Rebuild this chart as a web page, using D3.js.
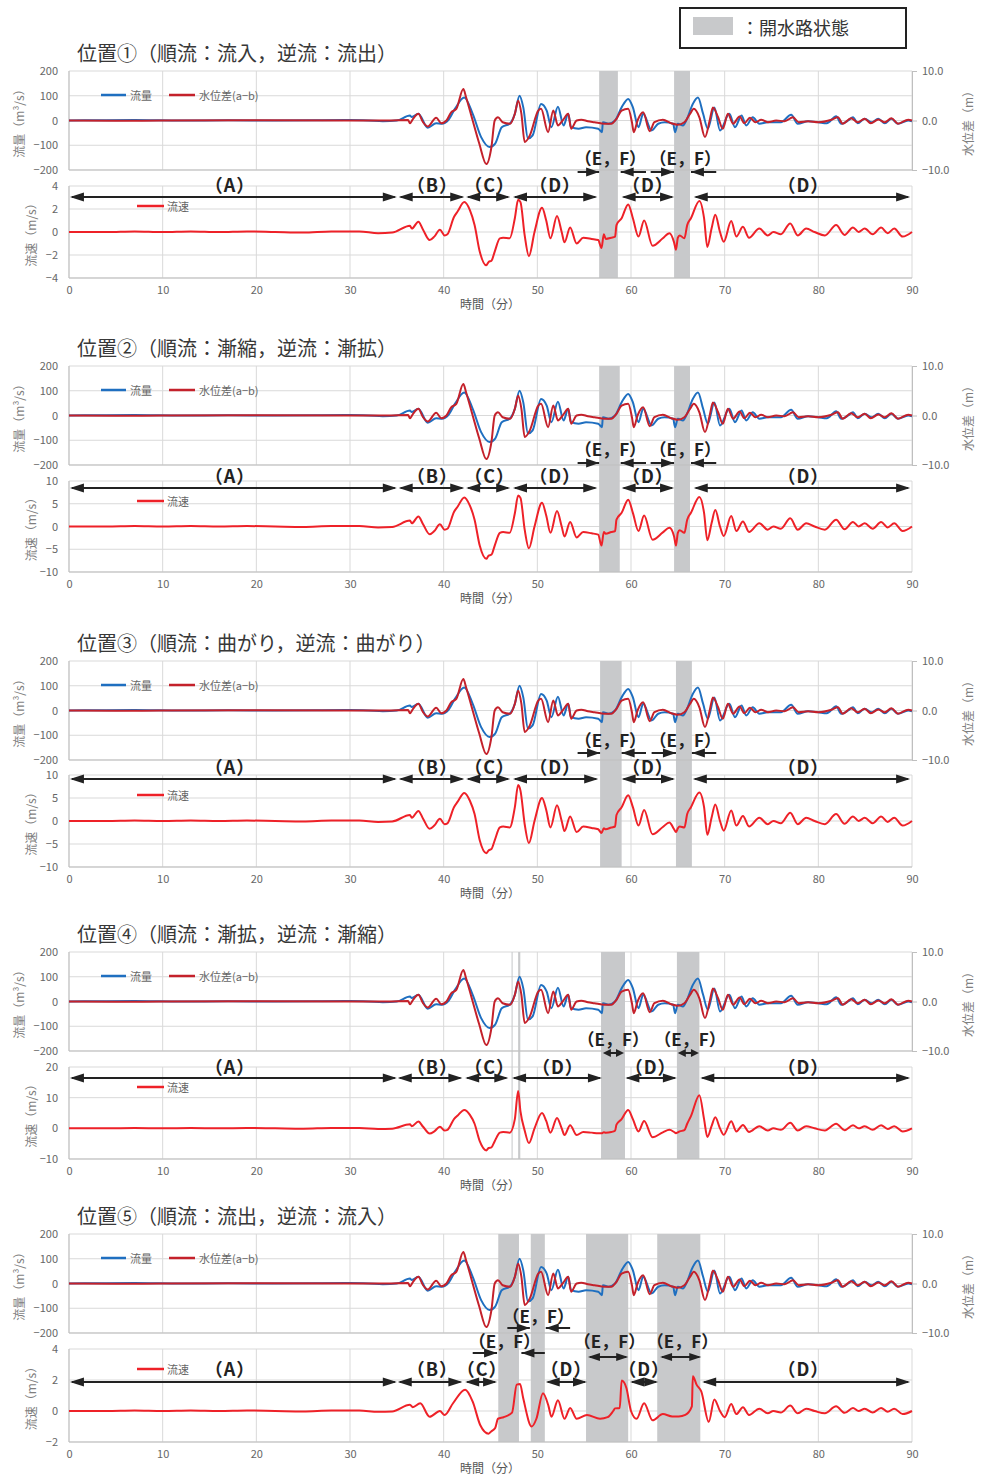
<!DOCTYPE html>
<html>
<head>
<meta charset="utf-8">
<script src="https://cdn.jsdelivr.net/npm/d3@7"></script>
<style>
  body { margin: 0; background: #fff; }
  text { font-family: "Noto Sans CJK JP", "Noto Sans", sans-serif; }
</style>
</head>
<body>
<div id="chart"></div>
<script>
// ---- data ----
const panelTitles = [
  "位置①（順流：流入，逆流：流出）",
  "位置②（順流：漸縮，逆流：漸拡）",
  "位置③（順流：曲がり，逆流：曲がり）",
  "位置④（順流：漸拡，逆流：漸縮）",
  "位置⑤（順流：流出，逆流：流入）"
];
const xTicks = [0, 10, 20, 30, 40, 50, 60, 70, 80, 90];
const flowTicks = [-200, -100, 0, 100, 200];
const levelTicks = [-10, 0, 10];

// 流量 (m3/s) : [minute, value]
const flow = [[0,0],[3,1],[7,2],[12,0],[17,1],[22,0],[27,1],[30,2],[32,0],[33.5,-3],[35,0],[36.4,20],[36.6,14],[37.3,27],[38.3,-29],[39.2,-11],[39.8,-13],[40.5,2],[41.2,47],[42.2,93],[43.1,27],[44.0,-67],[44.9,-107],[45.5,-93],[46.2,-27],[47.1,-11],[47.6,27],[48.1,100],[48.5,53],[49.0,-73],[49.5,-60],[50.4,67],[51.0,40],[51.5,-27],[52.2,56],[52.8,-20],[53.3,27],[53.6,-27],[54.4,-33],[55.2,-27],[56.5,-33],[56.9,-47],[57.0,-7],[57.6,-13],[58.3,0],[59.0,53],[59.7,87],[60.2,53],[60.8,-27],[61.3,27],[62.2,-40],[62.9,-13],[63.6,-7],[64.5,-13],[64.7,-47],[65.0,-13],[65.55,-20],[65.9,0],[66.6,67],[67.15,93],[67.7,27],[68.2,-33],[68.9,53],[69.5,-40],[70.5,27],[71.1,-27],[71.8,20],[72.3,-20],[73.0,13],[73.7,-13],[74.6,-7],[76.0,-7],[77.1,23],[77.8,-13],[78.9,-3],[80,-7],[80.9,-11],[81.9,17],[82.45,-13],[83.2,0],[83.7,13],[84.2,-11],[84.95,7],[85.7,-7],[86.4,7],[87.1,-11],[87.8,7],[88.5,-13],[89.6,0],[90,-3]];

// 水位差(a-b) (m) : [minute, value]
const level = [[0,0],[5,-0.05],[10,0],[20,0.05],[30,0],[34,0],[36.2,0.1],[36.4,-0.55],[36.7,0.25],[37.3,1.35],[37.8,-0.35],[38.3,-1.2],[39.2,0.55],[39.75,-0.55],[40.3,0],[40.8,1.65],[41.35,2.35],[42.1,6.35],[42.4,4.65],[43.0,0.65],[43.8,-4.65],[44.55,-8.8],[45.1,-5.35],[45.45,0],[45.8,0.65],[46.3,-0.35],[47.1,-0.65],[47.6,1.35],[47.95,4.0],[48.3,1.35],[48.65,-4.35],[49.2,-3.0],[50.1,2.0],[50.4,2.35],[51.15,-2.35],[51.7,2.0],[52.2,-1.0],[52.7,0],[53.3,1.35],[53.6,-1.65],[54.2,0],[54.7,0.15],[55.4,-0.15],[56.1,-0.35],[57.2,-0.65],[57.9,-0.65],[58.45,0.35],[59.0,2.0],[59.7,2.35],[60.1,-0.35],[60.3,-2.35],[60.7,0],[61.3,1.65],[62.0,-2.15],[62.5,-0.35],[63.4,0.15],[64.3,-0.55],[65.0,-0.85],[65.7,-0.35],[66.3,1.35],[66.7,2.35],[67.3,0.65],[67.9,-3.35],[68.4,0],[68.75,2.65],[69.3,0.65],[69.8,-1.65],[70.35,1.35],[70.9,-0.65],[71.6,0.8],[72.1,-0.55],[72.7,0.55],[73.3,-0.35],[73.9,0.15],[74.6,-0.35],[75.5,0],[76.4,-0.15],[77.3,0.65],[77.9,-0.35],[78.9,-0.15],[80,-0.35],[81.4,0.15],[82.1,0.65],[82.6,-0.65],[83.5,0.45],[84.2,-0.35],[84.95,0.35],[85.6,-0.55],[86.4,0.2],[87.1,-0.35],[87.8,0.45],[88.5,-0.65],[89.6,0.15],[90,0]];

// 流速 (m/s) for each position : [minute, value]
const vel1 = [[0,0],[4,0],[7,0.05],[10,0],[13,0.05],[16,0],[19,0.05],[22,0],[25,-0.05],[28,0.05],[31,0.05],[33,-0.1],[34.5,-0.05],[36.4,0.55],[36.6,0.3],[37.3,0.9],[37.8,0.2],[38.5,-0.7],[39.0,-0.4],[39.6,0.2],[40.1,-0.3],[40.4,-0.2],[41.1,1.3],[41.5,1.8],[42.2,2.6],[42.8,1.9],[43.3,0.6],[43.85,-1.7],[44.55,-2.9],[44.8,-2.6],[45.1,-2.5],[45.45,-1.7],[46.0,-0.55],[46.35,-0.5],[47.05,-0.55],[47.6,1.2],[47.95,2.8],[48.2,2.6],[48.65,-0.3],[49.1,-2.1],[49.7,0],[50.5,2.1],[50.95,1.0],[51.4,-0.55],[52.1,1.4],[52.6,0],[52.9,-0.9],[53.5,0.4],[54.2,-1.0],[54.9,-0.5],[55.8,-0.6],[56.5,-0.7],[56.85,-1.4],[57.1,-0.2],[57.3,-0.6],[57.9,-0.5],[58.3,-0.4],[58.45,0.6],[59.0,1.2],[59.7,2.4],[60.2,1.2],[60.8,-0.4],[61.4,1.0],[62.3,-1.2],[63.4,-0.55],[64.1,-0.1],[64.6,-0.9],[64.8,-1.55],[65.0,-0.5],[65.2,-0.3],[65.7,-0.55],[66.0,0.6],[66.4,1.2],[67.3,2.7],[67.8,1.2],[68.15,-1.3],[68.6,0.3],[69.0,1.5],[69.5,0],[69.9,-0.85],[70.7,0.95],[71.25,-0.4],[71.95,0.45],[72.6,-0.5],[73.7,0.3],[74.6,-0.3],[75.2,0],[76.0,-0.2],[77.0,0.75],[77.8,-0.3],[78.7,0.3],[79.6,0],[80.7,-0.3],[81.9,0.6],[82.8,-0.25],[83.7,0.4],[84.3,0],[84.95,0.3],[85.8,-0.2],[86.7,0.4],[87.4,-0.1],[88.1,0.3],[89.0,-0.4],[90,0]];

const vel2 = [[0,0],[4,0],[7,0.1],[10,0],[13,0.1],[16,0],[19,0.1],[22,0],[25,-0.1],[28,0.1],[31,0.1],[33,-0.2],[34.5,-0.1],[36.4,1.3],[36.6,0.7],[37.3,2.2],[37.8,0.5],[38.5,-1.7],[39.0,-1.0],[39.6,0.5],[40.1,-0.7],[40.4,-0.5],[41.1,3.2],[41.5,4.4],[42.2,6.4],[42.8,4.6],[43.3,1.5],[43.85,-4.2],[44.55,-7.1],[44.8,-6.4],[45.1,-6.2],[45.45,-4.2],[46.0,-1.4],[46.35,-1.2],[47.05,-1.4],[47.6,2.9],[47.95,6.8],[48.2,6.3],[48.65,-0.7],[49.1,-4.8],[49.7,0],[50.5,5.2],[50.95,2.4],[51.4,-1.4],[52.1,3.4],[52.6,0],[52.9,-2.2],[53.5,1.0],[54.2,-2.4],[54.9,-1.2],[55.8,-1.5],[56.5,-1.8],[56.85,-4.2],[57.1,-1.2],[57.3,-1.6],[57.9,-1.2],[58.3,-1.0],[58.45,1.5],[59.0,3.0],[59.7,5.9],[60.2,3.0],[60.8,-1.0],[61.4,2.4],[62.3,-2.9],[63.4,-1.3],[64.1,-0.3],[64.6,-2.2],[64.8,-4.2],[65.0,-1.4],[65.2,-0.8],[65.7,-1.4],[66.0,1.5],[66.4,3.0],[67.3,6.5],[67.8,3.0],[68.15,-3.0],[68.6,0.7],[69.0,3.6],[69.5,0],[69.9,-2.1],[70.7,2.3],[71.25,-1.0],[71.95,1.1],[72.6,-1.2],[73.7,0.7],[74.6,-0.7],[75.2,0],[76.0,-0.5],[77.0,1.8],[77.8,-0.7],[78.7,0.7],[79.6,0],[80.7,-0.7],[81.9,1.5],[82.8,-0.6],[83.7,1.0],[84.3,0],[84.95,0.7],[85.8,-0.5],[86.7,1.0],[87.4,-0.2],[88.1,0.7],[89.0,-1.0],[90,0]];

const vel3 = [[0,0],[4,0],[7,0.1],[10,0],[13,0.1],[16,0],[19,0.1],[22,0],[25,-0.1],[28,0.1],[31,0.1],[33,-0.2],[34.5,-0.1],[36.4,1.3],[36.6,0.7],[37.3,2.2],[37.8,0.5],[38.5,-1.7],[39.0,-1.0],[39.6,0.5],[40.1,-0.7],[40.4,-0.5],[41.1,3.0],[41.5,4.2],[42.2,6.1],[42.8,4.4],[43.3,1.5],[43.85,-4.2],[44.55,-7.0],[44.8,-6.4],[45.1,-6.1],[45.45,-4.2],[46.0,-1.4],[46.35,-1.2],[47.05,-1.4],[47.6,3.0],[47.95,7.8],[48.2,6.6],[48.65,-0.7],[49.1,-4.8],[49.7,0],[50.5,5.0],[50.95,2.4],[51.4,-1.4],[52.1,3.4],[52.6,0],[52.9,-2.2],[53.5,1.0],[54.2,-2.4],[54.9,-1.2],[55.8,-1.5],[56.5,-1.8],[56.85,-2.6],[57.1,-1.6],[57.3,-1.8],[57.9,-1.4],[58.3,-1.2],[58.45,1.3],[59.0,3.0],[59.7,5.6],[60.2,3.0],[60.8,-1.0],[61.4,2.4],[62.3,-2.9],[63.4,-1.3],[64.1,-0.3],[64.6,-1.8],[64.8,-2.4],[65.0,-1.6],[65.2,-1.2],[65.7,-1.4],[66.0,1.5],[66.4,3.0],[67.3,6.2],[67.8,3.0],[68.15,-3.0],[68.6,0.7],[69.0,3.6],[69.5,0],[69.9,-2.1],[70.7,2.3],[71.25,-1.0],[71.95,1.1],[72.6,-1.2],[73.7,0.7],[74.6,-0.7],[75.2,0],[76.0,-0.5],[77.0,1.8],[77.8,-0.7],[78.7,0.7],[79.6,0],[80.7,-0.7],[81.9,1.5],[82.8,-0.6],[83.7,1.0],[84.3,0],[84.95,0.7],[85.8,-0.5],[86.7,1.0],[87.4,-0.2],[88.1,0.7],[89.0,-1.0],[90,0]];

const vel4 = [[0,0],[4,0],[7,0.1],[10,0],[13,0.1],[16,0],[19,0.1],[22,0],[25,-0.1],[28,0.1],[31,0.1],[33,-0.2],[34.5,-0.1],[36.4,1.3],[36.6,0.7],[37.3,2.2],[37.8,0.5],[38.5,-1.7],[39.0,-1.0],[39.6,0.5],[40.1,-0.7],[40.4,-0.5],[41.1,3.0],[41.5,4.2],[42.2,6.0],[42.8,4.4],[43.3,1.5],[43.85,-4.2],[44.55,-7.2],[44.8,-6.4],[45.1,-6.2],[45.45,-4.2],[46.0,-1.4],[46.35,-1.2],[47.05,-1.4],[47.6,3.0],[47.95,12.2],[48.2,5.5],[48.65,-0.7],[49.1,-4.8],[49.7,0],[50.5,5.0],[50.95,2.4],[51.4,-1.4],[52.1,3.4],[52.6,0],[52.9,-2.2],[53.5,1.0],[54.2,-2.2],[54.9,-1.2],[55.8,-1.4],[56.5,-1.6],[56.85,-1.6],[57.1,-1.3],[57.3,-1.4],[57.9,-1.2],[58.3,-0.8],[58.45,1.2],[59.0,3.0],[59.7,6.0],[60.2,3.0],[60.8,-1.0],[61.4,2.4],[62.3,-2.9],[63.4,-1.3],[64.1,-0.5],[64.6,-1.2],[64.8,-1.6],[65.0,-1.3],[65.2,-1.0],[65.7,-0.6],[66.0,1.5],[66.4,4.0],[67.3,10.8],[67.8,3.0],[68.15,-2.8],[68.6,0.7],[69.0,3.6],[69.5,0],[69.9,-2.1],[70.7,2.3],[71.25,-1.0],[71.95,1.1],[72.6,-1.2],[73.7,0.7],[74.6,-0.7],[75.2,0],[76.0,-0.5],[77.0,1.8],[77.8,-0.7],[78.7,0.7],[79.6,0],[80.7,-0.7],[81.9,1.5],[82.8,-0.6],[83.7,1.0],[84.3,0],[84.95,0.7],[85.8,-0.5],[86.7,1.0],[87.4,-0.2],[88.1,0.7],[89.0,-1.0],[90,0]];

const vel5 = [[0,0],[4,0],[7,0.03],[10,0],[13,0.03],[16,0],[19,0.03],[22,0],[25,-0.03],[28,0.03],[31,0.03],[33,-0.05],[34.5,-0.03],[36.4,0.4],[36.7,0.25],[37.5,0.5],[38.5,-0.37],[39.6,0],[40.1,-0.26],[41.0,0.5],[42.3,1.37],[43.1,0.6],[43.9,-0.9],[44.8,-1.46],[45.1,-1.3],[45.5,-1.1],[45.8,-0.5],[46.4,-0.4],[47.3,-0.1],[47.8,1.7],[48.15,1.74],[48.5,0.8],[49.4,-1.0],[49.9,-0.5],[50.6,1.15],[51.2,0.3],[51.5,-0.37],[52.2,0.7],[52.9,-0.5],[53.5,0.2],[54.2,-0.5],[55.3,-0.26],[56.7,-0.5],[57.5,-0.4],[58.1,0],[58.3,0.17],[58.8,0.2],[59.0,1.96],[59.5,1.5],[60.0,0],[60.6,-0.5],[61.4,0.5],[62.3,-0.6],[63.4,-0.2],[64.4,-0.35],[65.1,-0.35],[65.8,-0.25],[66.5,0.3],[66.6,2.24],[67.0,1.7],[67.5,1.26],[68.3,-0.7],[68.9,0.75],[69.5,0],[70.0,-0.4],[70.7,0.45],[71.25,-0.2],[71.95,0.25],[72.6,-0.25],[73.7,0.15],[74.6,-0.15],[75.2,0],[76.0,-0.1],[77.0,0.35],[77.8,-0.15],[78.7,0.15],[79.6,0],[80.7,-0.15],[81.9,0.3],[82.8,-0.12],[83.7,0.2],[84.3,0],[84.95,0.15],[85.8,-0.1],[86.7,0.2],[87.4,-0.05],[88.1,0.15],[89.0,-0.2],[90,0]];

// 開水路状態 periods (minutes)
const openPeriods = [
  [[56.6, 58.6], [64.6, 66.3]],
  [[56.6, 58.8], [64.6, 66.3]],
  [[56.7, 59.0], [64.8, 66.5]],
  [[47.25, 47.36], [47.95, 48.18], [56.8, 59.36], [64.9, 67.3]],
  [[45.83, 48.04], [49.3, 50.8], [55.2, 59.7], [62.8, 67.4]]
];

// ---- layout per panel ----
const panels = [
  { top: 71, loTop: 186, loBot: 278, vel: vel1, velDomain: [-4, 4], velTicks: [-4, -2, 0, 2, 4],
    labelY: 184, spanY: 197,
    labels: [["（A）",17.2],["（B）",38.8],["（C）",44.9],["（D）",51.9],["（D）",61.8],["（D）",78.4]],
    spans: [[0.1,35.0],[35.2,42.2],[42.4,47.1],[47.4,56.4],[59.0,64.6],[66.7,89.8]],
    ef: [[57.8,157],[65.8,157]],
    singles: [[54.3,56.6,172],[61.6,58.9,172],[62.1,64.6,172],[69.1,66.4,172]], small: [] },
  { top: 366, loTop: 481, loBot: 572, vel: vel2, velDomain: [-10, 10], velTicks: [-10, -5, 0, 5, 10],
    labelY: 475, spanY: 488,
    labels: [["（A）",17.2],["（B）",38.8],["（C）",44.9],["（D）",51.9],["（D）",61.8],["（D）",78.4]],
    spans: [[0.1,35.0],[35.2,42.2],[42.4,47.1],[47.4,56.4],[59.0,64.6],[66.7,89.8]],
    ef: [[57.8,448],[65.8,448]],
    singles: [[54.3,56.6,463],[61.6,58.9,463],[62.1,64.6,463],[69.1,66.4,463]], small: [] },
  { top: 661, loTop: 775, loBot: 867, vel: vel3, velDomain: [-10, 10], velTicks: [-10, -5, 0, 5, 10],
    labelY: 766, spanY: 779,
    labels: [["（A）",17.2],["（B）",38.8],["（C）",44.9],["（D）",51.9],["（D）",61.8],["（D）",78.4]],
    spans: [[0.1,35.0],[35.2,42.2],[42.4,47.1],[47.4,56.5],[59.0,64.7],[66.6,89.8]],
    ef: [[57.8,739],[65.8,739]],
    singles: [[54.3,56.7,753],[61.6,59.0,753],[62.2,64.8,753],[69.1,66.5,753]], small: [] },
  { top: 952, loTop: 1067, loBot: 1159, vel: vel4, velDomain: [-10, 20], velTicks: [-10, 0, 10, 20],
    labelY: 1066, spanY: 1078,
    labels: [["（A）",17.2],["（B）",38.8],["（C）",44.9],["（D）",52.2],["（D）",62.1],["（D）",78.4]],
    spans: [[0.1,35.0],[35.1,42.0],[42.3,46.9],[47.3,56.9],[59.4,64.9],[67.4,89.8]],
    ef: [[58.1,1038],[66.3,1038]],
    singles: [], small: [[57.0,59.25,1053,8],[65.0,67.25,1053,8]] },
  { top: 1234, loTop: 1349, loBot: 1442, vel: vel5, velDomain: [-2, 4], velTicks: [-2, 0, 2, 4],
    labelY: 1368, spanY: 1382,
    labels: [["（A）",17.2],["（B）",38.8],["（C）",44.1],["（D）",53.1],["（D）",61.4],["（D）",78.4]],
    spans: [[0.1,35.0],[35.1,42.0],[42.3,45.7],[50.9,55.3],[59.9,62.9],[67.6,89.8]],
    ef: [[50.1,1315],[46.5,1340],[57.7,1340],[65.5,1340]],
    singles: [[46.8,49.2,1328],[53.5,50.9,1328],[43.1,45.7,1353],[50.8,48.3,1353]],
    small: [[55.4,59.7,1357,12],[63.1,67.5,1357,12]] }
];

const BLUE = "#1f6fc0", DARKRED = "#c4212b", RED = "#ee2128", GRID = "#d9d9d9", AXIS = "#bfbfbf";
const TICK = "#666", INK = "#222";

const svg = d3.select("#chart").append("svg")
  .attr("width", 981).attr("height", 1475);

const x = d3.scaleLinear().domain([0, 90]).range([69, 912]);

// legend box for the shaded periods
const $key = svg.append("g");
$key.append("rect").attr("x", 680).attr("y", 8).attr("width", 226).attr("height", 40)
  .attr("fill", "#fff").attr("stroke", INK).attr("stroke-width", 2);
$key.append("rect").attr("x", 693).attr("y", 17).attr("width", 40).attr("height", 18).attr("fill", "#c8c9cb");
$key.append("text").attr("x", 741).attr("y", 27).attr("dominant-baseline", "central")
  .attr("font-size", 18).attr("fill", "#333").text("：開水路状態");

function head(g, xTip, y, dir, len, hw) {
  g.append("path")
    .attr("d", `M${xTip},${y}L${xTip - dir * len},${y - hw}L${xTip - dir * len},${y + hw}Z`)
    .attr("fill", INK);
}
function doubleArrow(g, x1, x2, y, len, hw) {
  g.append("line").attr("x1", x1 + 2).attr("x2", x2 - 2).attr("y1", y).attr("y2", y)
    .attr("stroke", INK).attr("stroke-width", 2);
  head(g, x1, y, -1, len, hw);
  head(g, x2, y, 1, len, hw);
}
function singleArrow(g, xFrom, xTo, y) {
  g.append("line").attr("x1", xFrom).attr("x2", xTo).attr("y1", y).attr("y2", y)
    .attr("stroke", INK).attr("stroke-width", 2);
  head(g, xTo, y, xTo > xFrom ? 1 : -1, 13, 4.5);
}

panels.forEach((p, i) => {
  const upBot = p.top + 99;
  const yFlow = d3.scaleLinear().domain([-200, 200]).range([upBot, p.top]);
  const yLevel = d3.scaleLinear().domain([-10, 10]).range([upBot, p.top]);
  const yVel = d3.scaleLinear().domain(p.velDomain).range([p.loBot, p.loTop]);
  const $g = svg.append("g");

  // title
  $g.append("text").attr("x", 77).attr("y", p.top - 19).attr("dominant-baseline", "central")
    .attr("font-size", 20).attr("fill", "#383838").text(panelTitles[i]);

  // horizontal grid
  $g.append("g").selectAll("line").data(flowTicks).join("line")
    .attr("x1", x(0)).attr("x2", x(90)).attr("y1", d => yFlow(d)).attr("y2", d => yFlow(d))
    .attr("stroke", GRID);
  $g.append("g").selectAll("line").data(p.velTicks).join("line")
    .attr("x1", x(0)).attr("x2", x(90)).attr("y1", d => yVel(d)).attr("y2", d => yVel(d))
    .attr("stroke", GRID);
  // vertical grid
  $g.append("g").selectAll("line").data(xTicks).join("line")
    .attr("x1", d => x(d)).attr("x2", d => x(d)).attr("y1", p.top).attr("y2", upBot)
    .attr("stroke", GRID);
  $g.append("g").selectAll("line").data(xTicks).join("line")
    .attr("x1", d => x(d)).attr("x2", d => x(d)).attr("y1", p.loTop).attr("y2", p.loBot)
    .attr("stroke", GRID);

  // open-channel periods
  $g.append("g").selectAll("rect").data(openPeriods[i]).join("rect")
    .attr("x", d => x(d[0])).attr("width", d => Math.max(1, x(d[1]) - x(d[0])))
    .attr("y", p.top).attr("height", p.loBot - p.top).attr("fill", "#c8c9cb");

  // axis lines
  $g.append("line").attr("x1", x(0)).attr("x2", x(0)).attr("y1", p.top).attr("y2", upBot).attr("stroke", AXIS);
  $g.append("line").attr("x1", x(0)).attr("x2", x(0)).attr("y1", p.loTop).attr("y2", p.loBot).attr("stroke", AXIS);
  $g.append("line").attr("x1", x(0)).attr("x2", x(90)).attr("y1", p.loBot).attr("y2", p.loBot).attr("stroke", AXIS);
  $g.append("line").attr("x1", x(0)).attr("x2", x(90)).attr("y1", upBot).attr("y2", upBot).attr("stroke", AXIS);

  // left axes
  const $yl = $g.append("g").attr("transform", `translate(${x(0)},0)`)
    .call(d3.axisLeft(yFlow).tickValues(flowTicks).tickSize(0).tickPadding(11).tickFormat(d3.format("d")));
  const $yv = $g.append("g").attr("transform", `translate(${x(0)},0)`)
    .call(d3.axisLeft(yVel).tickValues(p.velTicks).tickSize(0).tickPadding(11).tickFormat(d3.format("d")));
  // right axis
  const $yr = $g.append("g").attr("transform", `translate(${x(90)},0)`)
    .call(d3.axisRight(yLevel).tickValues(levelTicks).tickSizeInner(5).tickSizeOuter(0)
      .tickPadding(5).tickFormat(d3.format(".1f")));
  // bottom axis
  const $xa = $g.append("g").attr("transform", `translate(0,${p.loBot})`)
    .call(d3.axisBottom(x).tickValues(xTicks).tickSize(0).tickPadding(8).tickFormat(d3.format("d")));
  [$yl, $yv, $xa].forEach(a => a.select(".domain").remove());
  $yr.select(".domain").attr("stroke", AXIS);
  $yr.selectAll(".tick line").attr("stroke", AXIS);
  [$yl, $yv, $yr, $xa].forEach(a => a.selectAll("text")
    .attr("font-size", 11).attr("fill", TICK)
    .style("font-family", '"Noto Sans CJK JP", sans-serif'));

  // axis titles
  $g.append("text").attr("transform", `translate(18,${(p.top + upBot) / 2}) rotate(-90)`)
    .attr("text-anchor", "middle").attr("dominant-baseline", "central")
    .attr("font-size", 12).attr("fill", "#7f7f7f").text("流量（m³/s）");
  $g.append("text").attr("transform", `translate(30,${(p.loTop + p.loBot) / 2}) rotate(-90)`)
    .attr("text-anchor", "middle").attr("dominant-baseline", "central")
    .attr("font-size", 12).attr("fill", "#7f7f7f").text("流速（m/s）");
  $g.append("text").attr("transform", `translate(967,${(p.top + upBot) / 2}) rotate(-90)`)
    .attr("text-anchor", "middle").attr("dominant-baseline", "central")
    .attr("font-size", 12).attr("fill", "#7f7f7f").text("水位差（m）");
  $g.append("text").attr("x", 490).attr("y", p.loBot + 25).attr("text-anchor", "middle")
    .attr("dominant-baseline", "central").attr("font-size", 12).attr("fill", "#555").text("時間（分）");

  // series
  const flowLine = d3.line().x(d => x(d[0])).y(d => yFlow(d[1])).curve(d3.curveMonotoneX);
  const levelLine = d3.line().x(d => x(d[0])).y(d => yLevel(d[1])).curve(d3.curveMonotoneX);
  const velLine = d3.line().x(d => x(d[0])).y(d => yVel(d[1])).curve(d3.curveMonotoneX);
  $g.append("path").datum(flow).attr("d", flowLine).attr("fill", "none")
    .attr("stroke", BLUE).attr("stroke-width", 2).attr("stroke-linejoin", "round");
  $g.append("path").datum(level).attr("d", levelLine).attr("fill", "none")
    .attr("stroke", DARKRED).attr("stroke-width", 2).attr("stroke-linejoin", "round");
  $g.append("path").datum(p.vel).attr("d", velLine).attr("fill", "none")
    .attr("stroke", RED).attr("stroke-width", 2).attr("stroke-linejoin", "round");

  // legends
  const ly = p.top + 24;
  $g.append("line").attr("x1", 101).attr("x2", 126).attr("y1", ly).attr("y2", ly).attr("stroke", BLUE).attr("stroke-width", 2.5);
  $g.append("text").attr("x", 130).attr("y", ly).attr("dominant-baseline", "central")
    .attr("font-size", 11).attr("fill", "#666").text("流量");
  $g.append("line").attr("x1", 169).attr("x2", 195).attr("y1", ly).attr("y2", ly).attr("stroke", DARKRED).attr("stroke-width", 2.5);
  $g.append("text").attr("x", 199).attr("y", ly).attr("dominant-baseline", "central")
    .attr("font-size", 11).attr("fill", "#666").text("水位差(a−b)");
  const lv = p.loTop + 20;
  $g.append("line").attr("x1", 137).attr("x2", 164).attr("y1", lv).attr("y2", lv).attr("stroke", RED).attr("stroke-width", 2.5);
  $g.append("text").attr("x", 167).attr("y", lv).attr("dominant-baseline", "central")
    .attr("font-size", 11).attr("fill", "#666").text("流速");

  // phase annotations
  const $a = $g.append("g");
  p.spans.forEach(s => doubleArrow($a, x(s[0]), x(s[1]), p.spanY, 14, 4.5));
  p.singles.forEach(s => singleArrow($a, x(s[0]), x(s[1]), s[2]));
  p.small.forEach(s => doubleArrow($a, x(s[0]), x(s[1]), s[2], s[3], 4));
  p.labels.forEach(l => $a.append("text").attr("x", x(l[1])).attr("y", p.labelY)
    .attr("text-anchor", "middle").attr("dominant-baseline", "central")
    .attr("font-size", 18).attr("font-weight", "bold").attr("letter-spacing", 1)
    .attr("fill", INK).text(l[0]));
  p.ef.forEach(l => $a.append("text").attr("x", x(l[0])).attr("y", l[1])
    .attr("text-anchor", "middle").attr("dominant-baseline", "central")
    .attr("font-size", 17).attr("font-weight", "bold")
    .attr("fill", INK).text("（E，F）"));
});
</script>
</body>
</html>
